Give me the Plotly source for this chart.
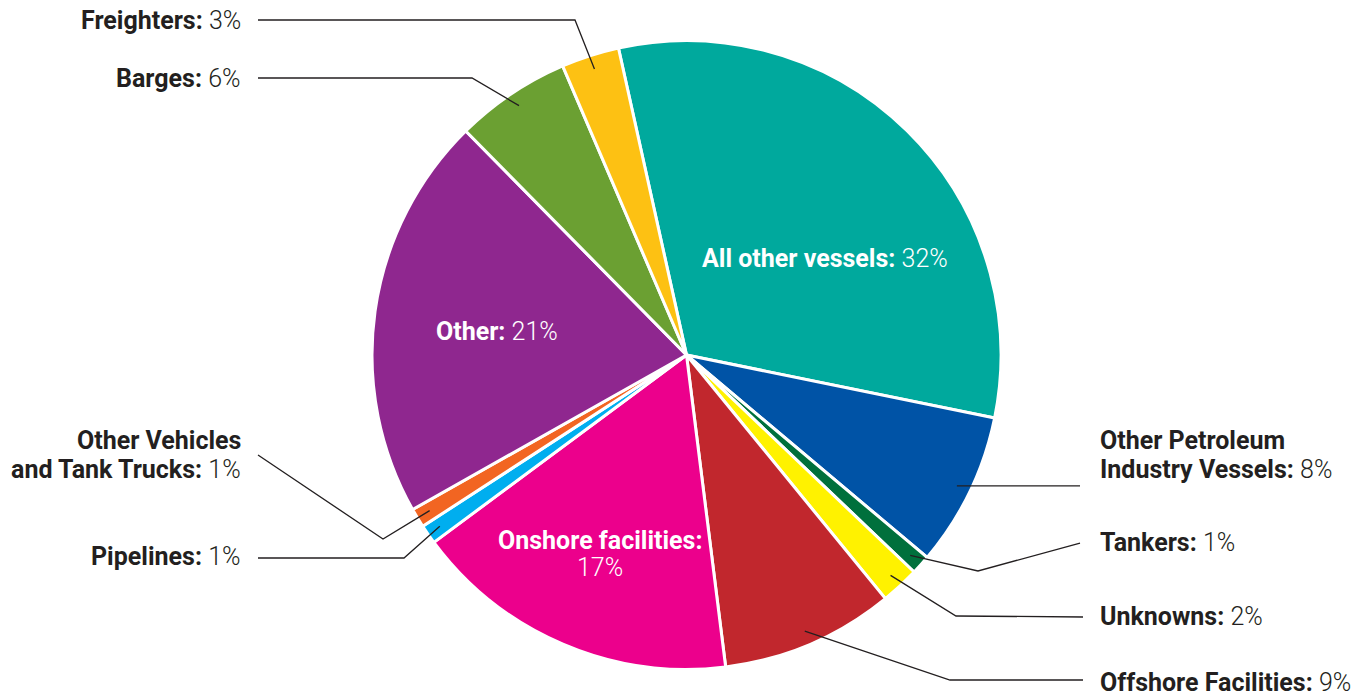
import math
import plotly.graph_objects as go

# Share of incidents by source (percent)
categories = [
    "All other vessels",
    "Other Petroleum Industry Vessels",
    "Tankers",
    "Unknowns",
    "Offshore Facilities",
    "Onshore facilities",
    "Pipelines",
    "Other Vehicles and Tank Trucks",
    "Other",
    "Barges",
    "Freighters",
]
shares = [32, 8, 1, 2, 9, 17, 1, 1, 21, 6, 3]
slice_colors = [
    "#00A99D", "#0053A6", "#00703C", "#FFF200", "#C1272D", "#EC008C",
    "#00AEEF", "#F26522", "#8F278F", "#6BA032", "#FDC113",
]

W, H = 1369, 698
CX, CY, R = 686.5, 355.0, 314.5
ROTATION = -12.5
FONT = "Roboto"
FSIZE = 25
INK = "#231f20"


def px(x, y):
    return x / W, (H - y) / H


def pct(v):
    return f'<span style="font-weight:300">{v}%</span>'


fig = go.Figure(
    go.Pie(
        labels=categories,
        values=shares,
        sort=False,
        direction="clockwise",
        rotation=ROTATION,
        marker=dict(colors=slice_colors, line=dict(color="white", width=3)),
        textinfo="none",
        hoverinfo="label+percent",
        domain=dict(
            x=[(CX - R) / W, (CX + R) / W],
            y=[(H - CY - R) / H, (H - CY + R) / H],
        ),
        showlegend=False,
    )
)

# mid-angle of every slice (degrees clockwise from 12 o'clock)
total = sum(shares)
mid_angle = {}
acc = 0.0
for name, v in zip(categories, shares):
    a0 = ROTATION + acc / total * 360
    acc += v
    a1 = ROTATION + acc / total * 360
    mid_angle[name] = (a0 + a1) / 2
share_of = dict(zip(categories, shares))


def anchor(name, frac=0.955):
    t = math.radians(mid_angle[name])
    return CX + frac * R * math.sin(t), CY - frac * R * math.cos(t)


# outside labels: (category, text lines, label x, first line y, side, leader elbows)
outside = [
    ("Freighters", ["Freighters:"], 243, 20, "right", [(575, 20), (258, 20)]),
    ("Barges", ["Barges:"], 243, 78, "right", [(472, 78), (258, 78)]),
    ("Other Vehicles and Tank Trucks", ["Other Vehicles", "and Tank Trucks:"],
     243, 441, "right", [(383, 539), (258, 455)]),
    ("Pipelines", ["Pipelines:"], 243, 556, "right", [(404, 558), (258, 558)]),
    ("Other Petroleum Industry Vessels", ["Other Petroleum", "Industry Vessels:"],
     1098, 441, "left", [(1080, None)]),
    ("Tankers", ["Tankers:"], 1098, 542, "left", [(978, 571), (1080, 543)]),
    ("Unknowns", ["Unknowns:"], 1098, 616, "left", [(956, 616), (1083, 617)]),
    ("Offshore Facilities", ["Offshore Facilities:"], 1098, 682, "left",
     [(950, 680), (1083, 680)]),
]
LINE_GAP = 28

shapes = []
annotations = []
for name, lines, lx, ly, side, pts in outside:
    ax, ay = anchor(name)
    path_pts = [(ax, ay)]
    for x, y in pts:
        path_pts.append((x, ay if y is None else y))
    d = ""
    for i, (x, y) in enumerate(path_pts):
        u, v = px(x, y)
        d += ("M" if i == 0 else "L") + f"{u:.5f},{v:.5f} "
    shapes.append(dict(
        type="path", path=d.strip(), xref="paper", yref="paper",
        line=dict(color=INK, width=1.3),
    ))
    for k, line in enumerate(lines):
        html = f"<b>{line}</b>"
        if k == len(lines) - 1:
            html += " " + pct(share_of[name])
        u, v = px(lx, ly + k * LINE_GAP)
        annotations.append(dict(
            x=u, y=v, xref="paper", yref="paper", text=html, showarrow=False,
            xanchor=side, yanchor="middle", align=side,
            font=dict(family=FONT, size=FSIZE, color=INK),
        ))

# labels printed inside the largest slices
inside = [
    ("All other vessels", [("<b>All other vessels:</b> " + pct(32), 258)], 825),
    ("Other", [("<b>Other:</b> " + pct(21), 331)], 497),
    ("Onshore facilities", [("<b>Onshore facilities:</b>", 540), (pct(17), 567)], 600),
]
for name, rows, lx in inside:
    for html, ly in rows:
        u, v = px(lx, ly)
        annotations.append(dict(
            x=u, y=v, xref="paper", yref="paper", text=html, showarrow=False,
            xanchor="center", yanchor="middle", align="center",
            font=dict(family=FONT, size=FSIZE, color="white"),
        ))

fig.update_layout(
    width=W, height=H, autosize=False,
    margin=dict(l=0, r=0, t=0, b=0),
    paper_bgcolor="white", plot_bgcolor="white",
    shapes=shapes, annotations=annotations,
)

fig.write_html("out.html")
